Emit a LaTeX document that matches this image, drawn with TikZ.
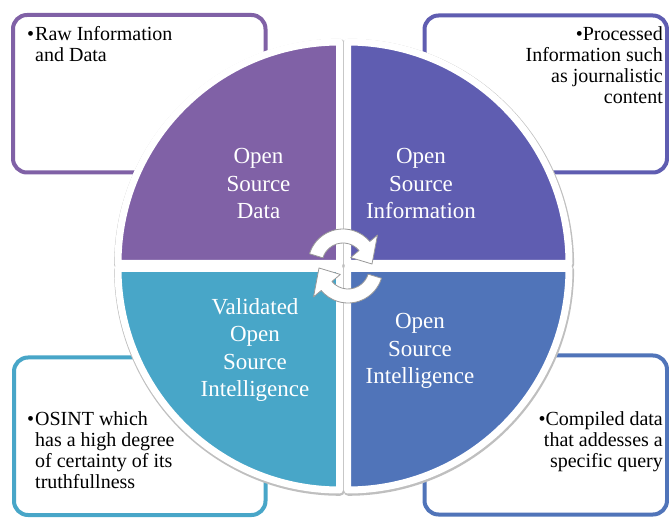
\documentclass[tikz,border=0pt]{standalone}
\usepackage{fontspec}
\setmainfont{Liberation Serif}
\usetikzlibrary{calc}

\definecolor{cData}{HTML}{8061A6}
\definecolor{cInfo}{HTML}{5F5DB1}
\definecolor{cIntel}{HTML}{5074B9}
\definecolor{cValid}{HTML}{48A6C8}

\tikzset{
  notebox/.style={draw=#1, line width=4pt, rounded corners=14pt, fill=white},
  quarter/.style={fill=#1, draw=white, line width=7pt, line join=round},
  quartershadow/.style={fill=black!25, draw=black!25, line width=9pt, line join=round},
  qlabel/.style={text=white, align=center, inner sep=0pt,
    font=\fontsize{23}{27.5}\selectfont},
  notetext/.style={text=black, inner sep=0pt,
    font=\fontsize{20}{21}\selectfont},
  cyclearrow/.style={fill=white, draw=black!40, line width=0.8pt, line join=round},
}

\begin{document}
\begin{tikzpicture}[x=1pt, y=1pt]
\useasboundingbox (0,0) rectangle (669,517);

% note boxes in the four corners
\draw[notebox=cData]  (13,344.5)  rectangle (265.5,502);
\draw[notebox=cInfo]  (424.5,344.5) rectangle (667,501.5);
\draw[notebox=cValid] (14,2)      rectangle (265.5,159.5);
\draw[notebox=cIntel] (424.5,2.5) rectangle (667,161.5);

% soft shadows under the four quarter discs
\foreach \cx/\cy/\a in {339.5/253.5/90, 347.5/253.5/0, 347.5/248.5/270, 339.5/248.5/180}{
  \path[quartershadow, shift={(0.6,-1.3)}]
    (\cx,\cy) -- ++(\a:221.5) arc[start angle=\a, end angle=\a+90, radius=221.5] -- cycle;
}
% the four quarter discs with white rims
\foreach \cx/\cy/\a/\c in {339.5/253.5/90/cData, 347.5/253.5/0/cInfo,
                           347.5/248.5/270/cIntel, 339.5/248.5/180/cValid}{
  \path[quarter=\c]
    (\cx,\cy) -- ++(\a:221.5) arc[start angle=\a, end angle=\a+90, radius=221.5] -- cycle;
}

% the two curved arrows of the cycle
\begin{scope}[shift={(343,253)}]
  \path[cyclearrow] (163:35) arc[start angle=163, end angle=40, radius=35]
    -- (40:45) -- (0:29) -- (40:10) -- (40:21)
    arc[start angle=40, end angle=163, radius=21] -- cycle;
\end{scope}
\begin{scope}[shift={(348,249)}]
  \path[cyclearrow] (343:35) arc[start angle=343, end angle=220, radius=35]
    -- (220:45) -- (180:29) -- (220:10) -- (220:21)
    arc[start angle=220, end angle=343, radius=21] -- cycle;
\end{scope}

% quarter labels
\node[qlabel] (osd)    at (258.5,333) {Open\\Source\\Data};
\node[qlabel] (osi)    at (421,333)   {Open\\Source\\Information};
\node[qlabel] (vosint) at (255,167)   {Validated\\Open\\Source\\Intelligence};
\node[qlabel] (osint)  at (420,166)   {Open\\Source\\Intelligence};

% note texts
\node[notetext, anchor=north west, align=left] (nraw) at (35,490.7)
  {\llap{•\kern1pt}Raw Information\\and Data};
\node[notetext, anchor=north east, align=right] (nproc) at (663,490.7)
  {•Processed\\Information such\\as journalistic\\content};
\node[notetext, anchor=north west, align=left] (nvalid) at (35,105.7)
  {\llap{•\kern1pt}OSINT which\\has a high degree\\of certainty of its\\truthfullness};
\node[notetext, anchor=north east, align=right] (ncomp) at (663,105.7)
  {•Compiled data\\that addesses a\\specific query};
\end{tikzpicture}
\end{document}
